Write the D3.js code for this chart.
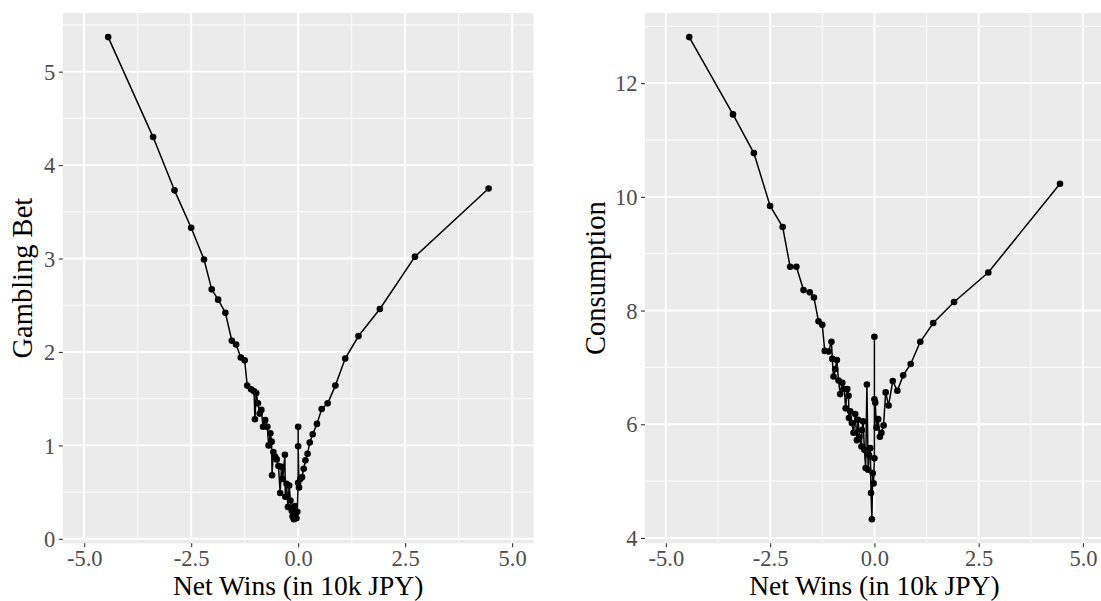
<!DOCTYPE html>
<html>
<head>
<meta charset="utf-8">
<script src="https://cdn.jsdelivr.net/npm/d3@7"></script>
<style>
  body { margin: 0; background: #ffffff; }
  svg { display: block; }
</style>
</head>
<body>
<svg id="chart" width="1101" height="601"></svg>
<script>
// Binned net wins (10k JPY), shared by both panels
const netWins = [
  -4.44, -3.39, -2.89, -2.50, -2.20, -2.02, -1.87, -1.70, -1.55, -1.45,
  -1.34, -1.25, -1.19, -1.10, -1.03, -1.01, -0.98, -0.94, -0.90, -0.86,
  -0.82, -0.77, -0.72, -0.69, -0.65, -0.62, -0.61, -0.58, -0.54, -0.50,
  -0.46, -0.42, -0.39, -0.36, -0.31, -0.30, -0.27, -0.24, -0.21, -0.18,
  -0.15, -0.13, -0.10, -0.08, -0.06, -0.04, -0.02, 0.00, 0.00, 0.00,
  0.02, 0.05, 0.09, 0.13, 0.17, 0.22, 0.27, 0.34, 0.44, 0.55,
  0.69, 0.87, 1.10, 1.41, 1.91, 2.73, 4.45
];

// Mean gambling bet per bin
const gamblingBet = [
  5.37, 4.30, 3.73, 3.33, 2.99, 2.67, 2.56, 2.42, 2.12, 2.08,
  1.94, 1.91, 1.64, 1.60, 1.58, 1.28, 1.56, 1.45, 1.34, 1.38,
  1.20, 1.27, 1.20, 1.00, 1.13, 1.04, 0.68, 0.93, 0.88, 0.85,
  0.78, 0.49, 0.77, 0.64, 0.90, 0.45, 0.59, 0.34, 0.57, 0.41,
  0.30, 0.24, 0.21, 0.35, 0.27, 0.22, 0.29, 0.60, 1.20, 0.99,
  0.55, 0.64, 0.66, 0.75, 0.84, 0.91, 1.03, 1.12, 1.23, 1.39,
  1.45, 1.64, 1.93, 2.17, 2.46, 3.02, 3.75
];

// Mean consumption per bin
const consumption = [
  12.81, 11.45, 10.77, 9.84, 9.47, 8.77, 8.77, 8.36, 8.32, 8.23,
  7.81, 7.75, 7.29, 7.28, 7.45, 7.15, 6.84, 6.97, 7.13, 6.77,
  6.53, 6.73, 6.62, 6.28, 6.62, 6.50, 6.11, 6.23, 6.02, 5.85,
  6.18, 5.72, 6.08, 5.78, 5.61, 5.90, 6.05, 5.55, 5.23, 6.70,
  5.20, 5.46, 5.58, 4.79, 4.33, 5.14, 4.96, 5.40, 7.54, 6.44,
  6.38, 5.94, 6.09, 5.78, 5.85, 5.98, 6.56, 6.33, 6.76, 6.59,
  6.86, 7.06, 7.45, 7.78, 8.15, 8.67, 10.23
];

const xTicks = [-5, -2.5, 0, 2.5, 5];
const betTicks = [0, 1, 2, 3, 4, 5];
const consTicks = [4, 6, 8, 10, 12];
const xTitle = "Net Wins (in 10k JPY)";
const xLimits = [-5, 5];

const FONT = "'Liberation Serif', 'Times New Roman', serif";
const svg = d3.select("#chart");

// 5% padding on each side of a range
function expand(lo, hi) {
  const r = hi - lo;
  return [lo - 0.05 * r, hi + 0.05 * r];
}

// half-step breaks between the major ones, kept inside the domain
function minorBreaks(major, domain) {
  const step = major[1] - major[0];
  const out = [];
  for (let v = major[0] - step / 2; v <= major[major.length - 1] + step / 2 + 1e-9; v += step) {
    if (v >= domain[0] && v <= domain[1]) out.push(v);
  }
  return out;
}

function drawPanel(opt) {
  const { left, right, top, bottom, yValues, yTicks, yTitle, titleX } = opt;
  const g = svg.append("g");

  const x = d3.scaleLinear().domain(expand(xLimits[0], xLimits[1])).range([left, right]);
  const y = d3.scaleLinear().domain(expand(d3.min(yValues), d3.max(yValues))).range([bottom, top]);

  const clipId = "clip" + Math.round(left);
  g.append("clipPath").attr("id", clipId)
    .append("rect").attr("x", left).attr("y", top)
    .attr("width", right - left).attr("height", bottom - top);

  g.append("rect")
    .attr("x", left).attr("y", top)
    .attr("width", right - left).attr("height", bottom - top)
    .attr("fill", "#EBEBEB");

  const grid = g.append("g").attr("clip-path", `url(#${clipId})`);
  // minor grid
  grid.append("g").selectAll("line").data(minorBreaks(xTicks, x.domain())).join("line")
    .attr("x1", d => x(d)).attr("x2", d => x(d))
    .attr("y1", top).attr("y2", bottom)
    .attr("stroke", "#ffffff").attr("stroke-width", 0.9);
  grid.append("g").selectAll("line").data(minorBreaks(yTicks, y.domain())).join("line")
    .attr("x1", left).attr("x2", right)
    .attr("y1", d => y(d)).attr("y2", d => y(d))
    .attr("stroke", "#ffffff").attr("stroke-width", 0.9);
  // major grid
  grid.append("g").selectAll("line").data(xTicks).join("line")
    .attr("x1", d => x(d)).attr("x2", d => x(d))
    .attr("y1", top).attr("y2", bottom)
    .attr("stroke", "#ffffff").attr("stroke-width", 1.9);
  grid.append("g").selectAll("line").data(yTicks).join("line")
    .attr("x1", left).attr("x2", right)
    .attr("y1", d => y(d)).attr("y2", d => y(d))
    .attr("stroke", "#ffffff").attr("stroke-width", 1.9);

  const pts = netWins.map((v, i) => ({ x: v, y: yValues[i] }));
  const plot = g.append("g").attr("clip-path", `url(#${clipId})`);
  plot.append("path")
    .datum(pts)
    .attr("fill", "none")
    .attr("stroke", "#000000")
    .attr("stroke-width", 1.5)
    .attr("stroke-linejoin", "round")
    .attr("d", d3.line().x(d => x(d.x)).y(d => y(d.y)));
  plot.selectAll("circle").data(pts).join("circle")
    .attr("cx", d => x(d.x)).attr("cy", d => y(d.y))
    .attr("r", 3.3).attr("fill", "#000000");

  // axes
  const xAxis = g.append("g")
    .attr("transform", `translate(0,${bottom})`)
    .call(d3.axisBottom(x).tickValues(xTicks).tickFormat(d => d.toFixed(1))
      .tickSize(4).tickSizeOuter(0).tickPadding(2.5));
  const yAxis = g.append("g")
    .attr("transform", `translate(${left},0)`)
    .call(d3.axisLeft(y).tickValues(yTicks).tickFormat(d => String(d))
      .tickSize(4).tickSizeOuter(0).tickPadding(3.5));
  [xAxis, yAxis].forEach(a => {
    a.select(".domain").remove();
    a.selectAll(".tick line").attr("stroke", "#333333").attr("stroke-width", 1.1);
    a.selectAll(".tick text")
      .attr("fill", "#4D4D4D")
      .style("font-family", FONT)
      .style("font-size", "22.5px");
  });
  yAxis.selectAll(".tick text").attr("dy", "0.34em");
  xAxis.selectAll(".tick text").attr("dy", "0.7em");

  // axis titles
  g.append("text")
    .attr("x", x(0))
    .attr("y", 594.5)
    .attr("text-anchor", "middle")
    .style("font-family", FONT)
    .style("font-size", "27.5px")
    .attr("fill", "#000000")
    .text(xTitle);
  g.append("text")
    .attr("transform", `translate(${titleX},${(top + bottom) / 2}) rotate(-90)`)
    .attr("text-anchor", "middle")
    .style("font-family", FONT)
    .style("font-size", "28.5px")
    .attr("fill", "#000000")
    .text(yTitle);
}

drawPanel({
  left: 62.8, right: 533.5, top: 13, bottom: 543.3,
  yValues: gamblingBet, yTicks: betTicks, yTitle: "Gambling Bet", titleX: 32
});

drawPanel({
  left: 645.0, right: 1103.8, top: 13, bottom: 543.3,
  yValues: consumption, yTicks: consTicks, yTitle: "Consumption", titleX: 605
});
</script>
</body>
</html>
